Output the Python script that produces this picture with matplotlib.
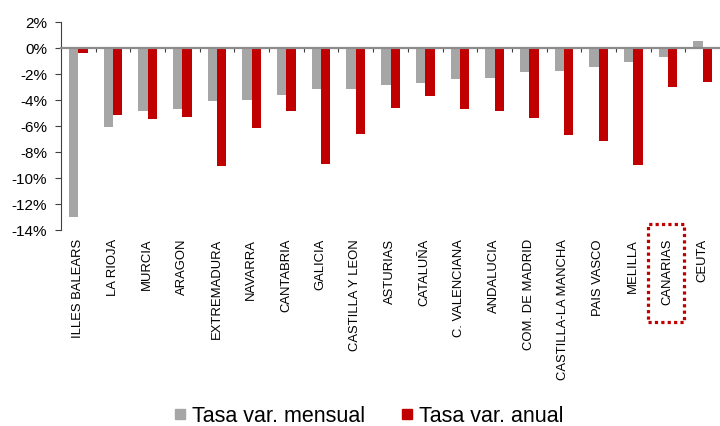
#!/usr/bin/env python3
"""Tasa de variacion mensual y anual por comunidad autonoma."""

import matplotlib
matplotlib.use("Agg")
import matplotlib.pyplot as plt
import numpy as np
from matplotlib.lines import Line2D
from matplotlib.patches import Rectangle
from matplotlib.ticker import FuncFormatter


REGIONS = [
    "ILLES BALEARS", "LA RIOJA", "MURCIA", "ARAGON", "EXTREMADURA",
    "NAVARRA", "CANTABRIA", "GALICIA", "CASTILLA Y LEON", "ASTURIAS",
    "CATALUÑA", "C. VALENCIANA", "ANDALUCIA", "COM. DE MADRID",
    "CASTILLA-LA MANCHA", "PAIS VASCO", "MELILLA", "CANARIAS", "CEUTA",
]
MENSUAL = [-13.0, -6.1, -4.9, -4.7, -4.1, -4.0, -3.6, -3.2, -3.2, -2.9,
           -2.7, -2.4, -2.3, -1.85, -1.8, -1.5, -1.1, -0.7, 0.5]
ANUAL = [-0.4, -5.2, -5.5, -5.3, -9.1, -6.2, -4.9, -8.9, -6.6, -4.6,
         -3.7, -4.7, -4.9, -5.4, -6.7, -7.2, -9.0, -3.0, -2.6]
Y_TICKS = [2, 0, -2, -4, -6, -8, -10, -12, -14]
HIGHLIGHT = "CANARIAS"

GRAY = "#A6A6A6"
RED = "#C00000"


def main():
    plt.rcParams["font.family"] = ["Liberation Sans", "DejaVu Sans"]

    fig = plt.figure(figsize=(7.2, 4.27), dpi=100)
    ax = fig.add_axes([61 / 720, 1 - 231 / 427, 659 / 720, (231 - 22.6) / 427])

    x = np.arange(len(REGIONS))
    w = 0.27
    ax.bar(x - w / 2, MENSUAL, width=w, color=GRAY, zorder=2)
    ax.bar(x + w / 2, ANUAL, width=w, color=RED, zorder=2)

    ax.set_xlim(-0.5, len(REGIONS) - 0.5)
    ax.set_ylim(-14, 2)
    ax.set_yticks(Y_TICKS)
    ax.yaxis.set_major_formatter(FuncFormatter(lambda v, _: f"{v:.0f}%"))
    ax.tick_params(axis="y", labelsize=11, length=4, width=0.8, pad=6,
                   color="#404040")

    # zero line with category-boundary ticks
    for s in ("top", "right"):
        ax.spines[s].set_visible(False)
    ax.spines["left"].set_color("#404040")
    ax.spines["left"].set_linewidth(0.8)
    ax.spines["bottom"].set_position(("data", 0))
    ax.spines["bottom"].set_color("#8C8C8C")
    ax.spines["bottom"].set_linewidth(1.6)
    ax.spines["bottom"].set_zorder(3)
    ax.set_xticks(np.arange(0.5, len(REGIONS) - 0.5, 1.0))
    ax.tick_params(axis="x", length=3, width=0.8, color="#404040",
                   labelbottom=False)

    for i, name in enumerate(REGIONS):
        ax.annotate(name, xy=(i, 0), xycoords=("data", "axes fraction"),
                    xytext=(-0.5, -8), textcoords="offset pixels",
                    rotation=90, ha="center", va="top", fontsize=9.4)

    # dotted box around the highlighted region label
    fig.add_artist(Rectangle((647.7 / 720, 1 - 323.3 / 427), 36.3 / 720, 98.3 / 427,
                             transform=fig.transFigure, fill=False,
                             edgecolor=RED, linewidth=2.3,
                             linestyle=(0, (1, 1))))

    handles = [
        Line2D([], [], marker="s", linestyle="none", markersize=7,
               markerfacecolor=GRAY, markeredgecolor=GRAY),
        Line2D([], [], marker="s", linestyle="none", markersize=7,
               markerfacecolor=RED, markeredgecolor=RED),
    ]
    fig.legend(handles, ["Tasa var. mensual", "Tasa var. anual"], ncol=2,
               loc="center", bbox_to_anchor=(0.513, 1 - 417 / 427),
               frameon=False, fontsize=15.5, handlelength=0.5,
               handletextpad=0.3, columnspacing=1.7, borderpad=0.0)

    fig.savefig("out.png", dpi=100)
    plt.close(fig)


if __name__ == "__main__":
    main()
